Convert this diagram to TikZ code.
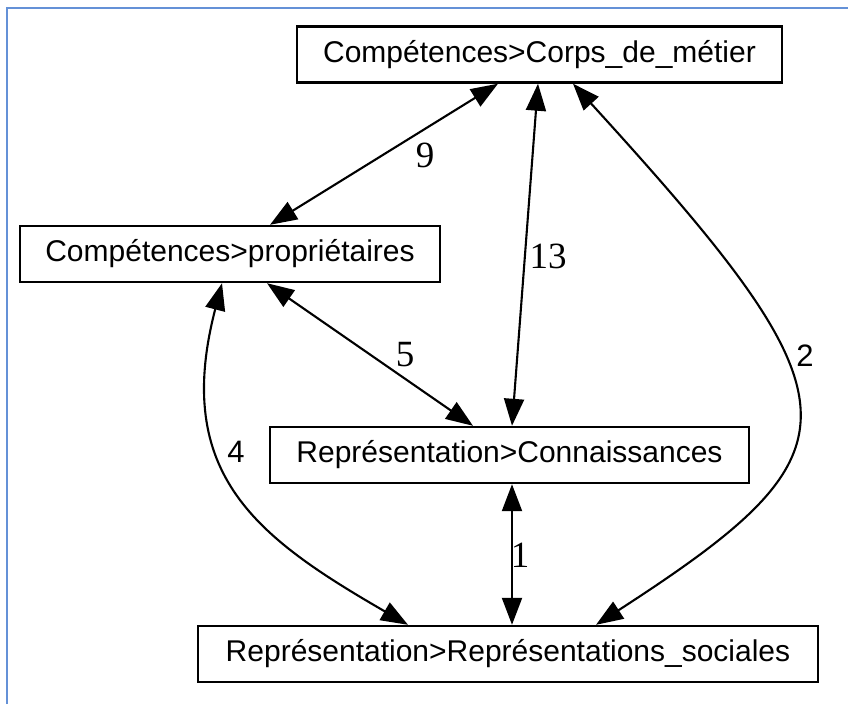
\documentclass[tikz,border=0pt]{standalone}
\usepackage{fontspec}
\setmainfont{Liberation Serif}
\newfontfamily\arialfont{Liberation Sans}
\usetikzlibrary{arrows.meta}
\definecolor{frameblue}{RGB}{100,145,215}
\tikzset{
  box/.style={draw=black, line width=2.4pt, rectangle, inner sep=0pt,
    minimum height=56pt, font=\arialfont\fontsize{30}{36}\selectfont},
  link/.style={line width=2.1pt, {Triangle[length=27pt,width=20pt]}-{Triangle[length=27pt,width=20pt]}},
  lbl/.style={inner sep=0pt, font=\fontsize{37}{40}\selectfont},
  slbl/.style={inner sep=0pt, font=\arialfont\fontsize{31}{36}\selectfont}
}
\begin{document}
\begin{tikzpicture}[x=1pt,y=-1pt]
\useasboundingbox (0,0) rectangle (848,704);
\fill[white] (0,0) rectangle (848,704);
\draw[frameblue, line width=2pt] (7,704) -- (7,8) -- (848,8);

\node[box, minimum width=485pt] (corps) at (539.5,54.5) {Compétences>Corps\_de\_métier};
\node[box, minimum width=420pt] (prop) at (230,254) {Compétences>propriétaires};
\node[box, minimum width=479pt] (conn) at (509.5,455) {Représentation>Connaissances};
\node[box, minimum width=620pt] (soc) at (508,654) {Représentation>Représentations\_sociales};

% 9
\draw[link] ([xshift=-41.5pt]corps.south) -- ([xshift=40pt]prop.north);
% 13
\draw[link] ([xshift=-1.5pt]corps.south) -- ([xshift=2.5pt]conn.north);
% 2
\draw[link] ([xshift=33.5pt]corps.south) .. controls (866,405) and (866,450) .. ([xshift=88pt]soc.north);
% 5
\draw[link] ([xshift=37pt]prop.south) -- ([xshift=-36.5pt]conn.north);
% 4
\draw[link] ([xshift=-8pt]prop.south) .. controls (172,475) and (258,538) .. ([xshift=-100pt]soc.north);
% 1
\draw[link] ([xshift=2.5pt]conn.south) -- ([xshift=4pt]soc.north);

\node[lbl] (l9) at (425,155) {9};
\node[lbl] (l13) at (548,256) {13};
\node[lbl] (l5) at (405,355) {5};
\node[slbl] (l4) at (236,452) {4};
\node[slbl] (l2) at (805,356) {2};
\node[lbl] (l1) at (520,555) {1};
\end{tikzpicture}
\end{document}
